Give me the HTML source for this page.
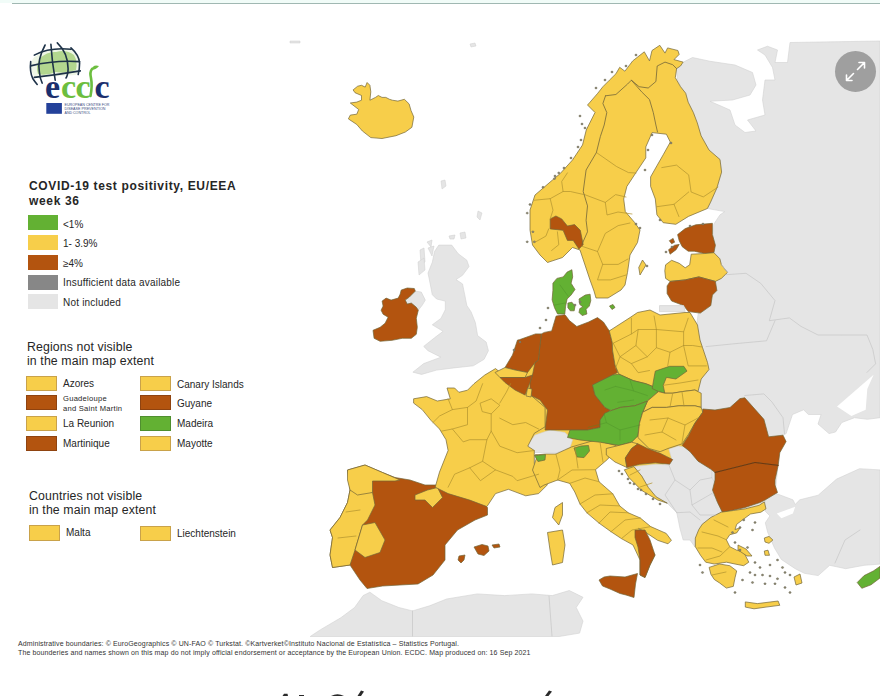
<!DOCTYPE html>
<html><head><meta charset="utf-8">
<style>
html,body{margin:0;padding:0;background:#fff;}
body{width:880px;height:696px;position:relative;overflow:hidden;font-family:"Liberation Sans",sans-serif;color:#262626;}
.topline{position:absolute;left:12px;right:0;top:3px;height:1px;background:#a0b8b2;}
.topbg{position:absolute;left:0;right:0;top:0;height:3px;background:#f1fcf8;}
svg.map{position:absolute;left:0;top:0;}
.t{position:absolute;white-space:nowrap;}
.sw{position:absolute;width:30px;height:15px;box-sizing:border-box;}
.lg{font-size:10px;}
.ttl{font-weight:bold;font-size:12px;line-height:14.5px;left:29px;top:179px;letter-spacing:0.65px;}
.sub{font-size:12.3px;line-height:14px;letter-spacing:0.12px;}
.foot{font-size:7px;line-height:8.8px;left:18px;top:640.3px;color:#333;letter-spacing:0.12px;}
</style></head><body>
<div class="topbg"></div>
<div class="topline"></div>

<svg class="map" width="880" height="696" viewBox="0 0 880 696">
<g id="land" stroke-linejoin="round">
<!-- base fill under continental countries -->
<g fill="#f7ce4a" stroke="none">
<path d="M500,380 L540,335 610,330 695,322 700,345 705,367 698,390 698,410 700,450 660,466 630,470 612,450 540,448 500,440 Z"/>
<path d="M690,450 L720,470 760,470 778,470 775,500 725,515 700,520 Z" fill="#e5e5e5"/>
</g>
<!-- gray background lands -->
<g fill="#e5e5e5" stroke="#d2d2d2" stroke-width="0.6">
<path d="M682.5,62.5 L692.5,57.5 710,61.25 735,65 752.5,72.5 756,85 750,95 732.5,100 710,101.25 730,110 735,125 745,132.5 756,131 747.5,120 765,115 762.5,100 765,80 775,80 772.5,67.5 765,55 757.5,50 767.5,46.25 777.5,50 775,62.5 787.5,62.5 790,42.5 880,41 880,417.7 867.3,419.3 854.5,417.7 841.8,422.5 835.5,432 829,433.6 818,424 821.1,414.5 808.4,414.5 803.6,409.8 792.5,414.5 786.1,433.6 775,440 750,430 720,420 700,420 696,330 700,300 713,240 713.7,224.3 720,214.8 724.8,211.6 707.4,208.5 710.6,202.1 716.9,187.9 721.6,172.1 720,159.5 709,150 701.1,135.8 694.8,120 685,95 677.5,80 676,66 Z"/>
<path d="M438.8,245.1 L451.7,245.1 458.2,253.7 466.8,260.2 469,266.6 462.5,275.3 456,279.6 462.5,283.9 464.7,294.7 466.8,305.4 471.1,311.9 475.4,322.7 477.6,335.6 486.2,342.1 488.4,350.7 484.1,359.3 473.3,365.8 453.9,367.9 436.6,370.1 421.6,374.4 412.9,372.2 423.7,363.6 440.9,357.2 428,350.7 423.7,346.4 434.5,337.8 443.1,331.3 432.3,324.8 440.9,318.4 445.3,309.7 445.3,301.1 436.6,299 432.3,294.7 430.2,283.9 428,273.1 432.3,262.3 434.5,251.6 Z M420,250 L424,248 425,262 421,264 Z M427,242 L432,240 431,247 Z M449,236 L455,235 454,239 450,239 Z"/>
<path d="M409.3,297.1 L415.3,291.1 421.3,292.1 425.3,300.1 422.3,305.1 418.3,310.2 416.3,307.2 411.3,303.1 407.2,304.1 405.2,300.1 Z"/>
<path d="M527.5,445 L535,435 550,430 565,432.5 572.5,440 570,447.5 557.5,452.5 542.5,452.5 535,452.5 Z"/>
<path d="M633.9,466.6 L656.1,464.2 668.9,465 672,460.2 668.9,449 678.4,445.9 686.4,447.5 695.9,458.6 705.4,465 711.8,469.8 711.8,477.7 716.6,485.7 711.8,493.6 719.8,501.6 721.4,512.7 711.8,517.5 702.3,523.9 699.1,533.4 695,547 690,540 683.2,540 680,528.6 676.8,512.7 667.3,503.2 656.1,496.8 648.2,487.3 641.8,476.1 Z"/>
<path d="M765.3,495.2 L774.5,492.9 792.9,499.8 795.2,504.4 799.8,499.8 818.2,495.2 836.6,479.1 859.5,468.7 880,469.9 880,564.1 864.1,565.3 845.7,568.7 829.7,565.3 818.2,575.6 804.4,573.3 795.2,568.7 781.4,559.5 774.5,548 767.6,532 765.3,522.8 769.9,515.9 765.3,511.3 Z"/>
<path d="M310.2,636.5 L320.5,629.7 340.9,617.7 354.6,607.5 363.1,595.6 369.9,592.2 381.8,600.7 398.9,607.5 412.5,610.9 429.6,605.8 446.6,599 477.3,593.9 504.6,595.6 531.8,593.9 552.3,595.6 569.3,590.5 583,597.3 576.2,607.5 583,621.1 579.6,633.1 559.1,636.5 Z"/>
</g>
<g fill="#fff">
<path d="M837,406.6 L851.4,393.9 873.6,374.8 867.3,389 865.7,409.8 851.4,416.1 Z"/>
<path d="M776.8,513.6 L795.2,506.7 792.9,513.6 781.4,518.2 Z"/>
</g>
<!-- countries -->
<g stroke="#736638" stroke-width="0.7" stroke-linejoin="round">
<!-- Iceland -->
<path fill="#f7ce4a" d="M353.1,89.9 L357.7,86.2 361.5,85.3 365.2,87.1 367.1,82.5 369.9,85.3 370.8,91.8 369.9,100.2 375.5,97.4 378.3,95.5 382,97.4 385.8,97.4 389.5,99.3 392.3,100.2 397.9,101.1 404.4,99.3 409.1,103.9 411,110.5 413.8,117 411.9,127.3 405.4,132 396,135.7 382,138.5 370.8,137.6 362.4,131 356.8,124.5 348.4,118.9 350.3,115.1 356.8,114.2 358.7,109.5 350.3,103 356.8,102.1 361.5,100.2 361.5,95.5 355,92.7 Z"/>
<!-- Scandinavia -->
<path fill="#f7ce4a" d="M547.5,262.5 L540,255 532.5,245 530,230 530,210 535,195 552.5,180 560,173.75 572.5,160 582.5,145 586.25,130 595,112.5 587.5,105 590,102.2 597.8,93.2 602.9,86.7 609.4,80.2 615.9,73.8 619.7,67.3 624.9,71.2 632.7,60.9 644.3,51.8 649.5,60.9 652,50.5 659.8,45.3 665,53.1 667.6,47.9 677.9,50.5 679.2,54.4 674,59.6 683.1,62.1 680.5,66 676.6,68.6 675.3,77.7 680.5,86.7 685.7,93.2 688.2,102.2 693.4,112.6 697.3,122.9 701.1,135.8 709,150 720,159.5 721.6,172.1 716.9,187.9 710.6,202.1 707.4,208.5 688.5,216.4 675.8,224.3 663.2,222.7 656.9,214.8 655.3,199 650.6,186.4 650.6,176.9 656.9,165.8 663.2,154.8 670.3,142.1 666.4,134.2 652.1,132.6 645.8,146.9 645.8,157.9 636.3,172.1 626.9,186.4 623.7,199 625.3,211.6 634.8,222.7 640,230 637.5,242.5 630,255 627.5,272.5 625,285 621,290 608,298 596,298 594,291 590,280 585,265 580,250 572.5,247.5 562.5,257.5 Z"/>
<!-- Gotland -->
<path fill="#f7ce4a" d="M642.5,260 L646,265 640,275 638.75,267.5 Z"/>
<!-- Norway brown region -->
<path fill="#b3540f" d="M550.2,218.9 L555.9,216 561.7,218.9 567.4,226 574.6,224.6 580.3,230.3 583.2,244.7 578.9,249 573.2,240.4 567.4,240.4 563.1,230.3 550.2,228.9 Z"/>
<!-- Ireland -->
<path fill="#b3540f" d="M401.2,290.1 L407.2,288 414.3,288.5 415.3,291.1 409.3,297.1 405.2,300.1 407.2,304.1 411.3,303.1 416.3,307.2 418.3,310.2 416.3,318.2 417.3,327.3 416.3,334.3 411.3,338.3 402.2,338.3 392.2,340.3 380.1,341.3 374.1,338.3 373,330.3 380.1,327.3 385.1,323.2 388.1,317.2 383.1,314.2 381.1,310.2 383.1,306.1 382.1,301.1 386.1,298.1 391.1,300.1 398.2,298.1 400.2,294.1 Z"/>
<!-- Estonia -->
<path fill="#b3540f" d="M677.6,234.6 L685.2,228.6 695.8,224.8 712.4,223.3 712.4,234.6 715.4,245.2 713.9,252.7 704.8,253.5 694.2,251.2 688.2,251.2 682.2,246.7 679.2,240.7 Z"/>
<path fill="#b3540f" d="M668.6,249.7 L674.6,245.2 679.2,244.4 676.1,249.7 670.1,254.2 Z M669.3,240.7 L673.1,238.4 674.6,242.2 671.6,243.7 Z"/>
<!-- Latvia -->
<path fill="#f7ce4a" d="M665.6,264.8 L671.6,260.3 679.2,263.3 685.2,267.8 689.7,264.8 691.2,254.2 704.8,253.5 713.9,252.7 719.9,258.8 721.4,264.8 727.5,272.4 721.4,278.4 715.4,281.4 698.8,276.9 685.2,279.9 670.1,281.4 665.6,278.4 664.8,270.8 Z"/>
<!-- Lithuania -->
<path fill="#b3540f" d="M670.1,281.4 L685.2,279.9 698.8,276.9 715.4,281.4 716.9,290.5 712.4,295 710.8,305.6 700.3,313.1 688.2,311.6 683.7,305.6 671.6,301 667.1,293.5 667.1,285.9 Z"/>
<!-- Kaliningrad -->
<path fill="#e5e5e5" stroke="#d2d2d2" d="M659.5,305.6 L683.7,305.6 685.2,311.6 659.5,311.6 Z"/>
<!-- Iberia (Spain brown) -->
<path fill="#b3540f" d="M347.5,470 L365,465 382.5,472.5 395,477.5 410,480 425,485 437.5,485 450,490 470,497.5 485,505 487.5,507.5 487.5,515 475,520 457.5,530 445,545 445,560 433,575 418,584 400,585 382.5,586 367,588.5 360,580 350,565 332.5,567.5 330,555 332.5,537.5 330,530 340,517.5 347.5,502.5 350,490 Z"/>
<!-- Portugal -->
<path fill="#f7ce4a" d="M350,490 L372.5,492.5 375,505 367.5,520 362.5,525 355,550 350,565 332.5,567.5 330,555 332.5,537.5 330,530 340,517.5 347.5,502.5 Z"/>
<!-- Galicia/Asturias -->
<path fill="#f7ce4a" d="M347.5,470 L365,465 382.5,472.5 400,480 395,481 372.5,481 372.5,492.5 357.5,495 350,490 347.5,480 Z"/>
<!-- Extremadura -->
<path fill="#f7ce4a" d="M362.5,525 L375,522.5 385,540 380,552.5 365,557.5 355,550 Z"/>
<!-- Basque -->
<path fill="#f7ce4a" d="M415,495 L427.5,490 437.5,487.5 442.5,497.5 432.5,507.5 425,500 415,500 Z"/>
<!-- Balearics -->
<path fill="#b3540f" d="M474,547 L482,544.5 488,546 489,551 484,555.5 478,554 Z M492,545 L499,544 500,547 494,548 Z M459,556 L465,555 464,560 461,563 458,560 Z"/>
<!-- France -->
<path fill="#f7ce4a" d="M413.6,398.8 L426.6,396.6 437.3,401 450.3,398.8 447,388 454.6,388 458.9,392.3 467.5,390.2 474,383.7 484.7,375.1 495.5,368.6 506.3,377.2 510.6,383.7 525.7,385.9 530,394.5 545.1,407.4 545.1,426.8 534.3,433.3 527.8,446.2 534.3,450.5 534.3,463.4 538.6,474.2 547.2,480.7 547.2,485 538.6,493.6 525.7,495.8 508.4,489.3 495.5,493.6 486.9,506.6 469.7,500.1 448.1,493.6 435.2,487.2 439.5,472.1 448.1,450.5 446,439.7 439.5,429 430.9,420.3 422.2,409.6 413.6,403.1 Z"/>
<!-- Corsica -->
<path fill="#f7ce4a" d="M555,507.5 L562.5,502.5 562.5,515 558.75,525 552.5,517.5 Z"/>
<!-- Sardinia -->
<path fill="#f7ce4a" d="M547.5,532.5 L562.5,530 565,545 562.5,562.5 552.5,565 550,550 Z"/>
<!-- Italy -->
<path fill="#f7ce4a" d="M535,455 L545.5,454 555.9,454 571.4,447 595.5,440 616,445.5 617,450 611,455 607.6,459.3 595.5,469.7 599,481.7 612.8,493.8 619.7,505.9 628.3,512.8 640.3,518 650.7,526.6 666.2,533.4 671.4,540.3 668,543.8 657.6,540.3 647.2,533.4 638.6,528.3 645,540 655,555 650,565 645,577.5 640,575 640,560 633,545 621.4,538.6 611,531.7 599,523.1 586.9,512.8 580,504 574.8,492 569.7,483.4 557.6,480 543.8,485.2 540,487.5 532.5,470 537.5,455 Z"/>
<!-- green Italian regions -->
<path fill="#63b133" d="M534.5,455.5 L545.5,454.5 545,460 538,461.5 Z"/>
<path fill="#63b133" d="M574,448 L581,446 588.5,445.5 589.5,451 584,457.6 577,457 Z"/>
<!-- Calabria brown -->
<path fill="#b3540f" d="M635,530 L645,530 650,540 655,555 650,565 645,577.5 640,575 640,560 638,547 635,537.5 Z"/>
<!-- Sicily -->
<path fill="#b3540f" d="M599,580 L604,577 610,576 625,577 637.5,573.5 635.5,584 634,597.5 626,595 620,593.5 610,589 602.5,586 Z"/>
<!-- Germany -->
<path fill="#b3540f" d="M556.1,316.1 L565,314.7 569.4,320.6 576.8,326.5 588.6,322 597.5,317.6 603.4,322 609.3,330.9 612.3,342.7 612.5,350 615,365 617.5,372.5 612.5,375 592.5,385 595,395 605,407.5 610,410 600,420 600,427.5 587.5,430 570,430 557.5,430 545,430 547.5,410 540,400 530,395 530,382.5 532.5,375 535,362.5 538.4,360 539.9,345.7 541.4,333.9 544.3,332.4 551.7,330.9 Z"/>
<!-- Netherlands -->
<path fill="#b3540f" d="M517.5,340 L519.2,339.8 535.5,333.9 541.4,333.9 539.9,345.7 538.4,360 535,362.5 527.5,372.5 515,370 505,367.5 512.5,355 Z"/>
<!-- Belgium -->
<path fill="#f7ce4a" d="M495,372.5 L505,367.5 515,370 527.5,372.5 525,377.5 500,377.5 Z"/>
<path fill="#b3540f" d="M500,377.5 L525,377.5 532.5,375 530,382.5 525,395 515,390 505,382.5 Z"/>
<path fill="#f7ce4a" d="M527.5,388 L532,389 531,397 526,396 Z"/>
<!-- Denmark -->
<path fill="#63b133" d="M571.9,269.7 L572.7,276.9 571.1,283.2 575,289.5 571.1,295 567.1,299 565.6,306.1 564.8,314 557.6,314 554.5,307.7 552.1,299.8 552.9,290.3 552.9,283.2 556.9,278.4 563.2,276.9 567.1,272.1 Z"/>
<path fill="#63b133" d="M567.9,303 L571.9,302.2 575,306.1 574.2,310.8 570.3,310.8 567.9,307.7 Z"/>
<path fill="#63b133" d="M579,299 L585.3,295 590.1,294.2 590.8,300.6 589.3,306.1 586.1,309.3 586.9,314 582.2,315.6 579,312.4 579.8,308.5 582.9,306.9 579.8,304.5 Z"/>
<path fill="#63b133" d="M609.5,306 L613,304.5 615,307.5 612,309.5 Z"/>
<!-- Poland -->
<path fill="#f7ce4a" d="M609.3,330.9 L630,317.6 637.5,312.5 650,310 660,315 685,312.5 690,312.5 697.5,325 700,340 702.5,347.5 707.5,362.5 709,369.5 701.2,379 698,391.6 694.9,390 682.2,391.6 672.7,393.2 664.8,393.2 658.5,391.6 653.8,386.9 645.8,383.7 633.2,380.6 619,374.2 615,365 612.5,350 612.3,342.7 Z"/>
<!-- Czechia -->
<path fill="#63b133" d="M592.5,385 L612.5,375 619,374.2 633.2,380.6 645.8,383.7 653.8,386.9 658.5,391.6 647.4,401.1 634.8,405.8 620.6,407.4 611.1,410.6 605,407.5 595,395 Z"/>
<path fill="#63b133" d="M655.3,371.1 L669.6,366.3 683.8,366.3 687,371.1 675.9,379 666.4,377.4 663.2,385.3 664.8,393.2 658.5,391.6 652.2,388.5 653.8,379 Z"/>
<!-- Slovakia -->
<path fill="#f7ce4a" d="M658.5,391.6 L664.8,393.2 672.7,393.2 682.2,391.6 694.9,390 701.2,393.2 701.2,407.4 694.9,405.8 679,405.8 666.4,407.4 652.2,407.4 642.7,412.2 647.4,401.1 Z"/>
<!-- Austria -->
<path fill="#63b133" d="M570,430 L587.5,430 600,427.5 600,420 605,413 611.1,410.6 620.6,407.4 634.8,405.8 647.4,401.1 642.7,412.2 639.5,423.2 637.9,435.9 631.6,442.2 619,445.4 600,442.2 580,440 567.5,437.5 Z"/>
<!-- Hungary -->
<path fill="#f7ce4a" d="M642.7,412.2 L652.2,407.4 666.4,407.4 679,405.8 694.9,405.8 701.2,407.4 702.8,412.2 694.9,423.2 688.5,434.3 682.2,443.8 668,448.5 660.1,451.7 649,448.5 637.9,437.5 639.5,423.2 Z"/>
<!-- Slovenia -->
<path fill="#f7ce4a" d="M606.3,448.5 L619,445.4 631.6,442.2 637.9,443.8 631.6,448.5 625.3,458 626.9,467.5 615,462 606.3,455 Z"/>
<!-- Croatia -->
<path fill="#b3540f" d="M625.3,458 L631.6,448.5 637.9,443.8 647.4,448.5 660.1,453.3 666.4,456.4 672.7,459.6 669.6,464.3 655.3,462.8 639.5,464.3 626.9,467.5 Z"/>
<path fill="#f7ce4a" d="M624.3,469.8 L633.9,466.6 641.8,476.1 648.2,487.3 656.1,496.8 667.3,503.2 657.7,500 641.8,490.5 629,477.7 Z"/>
<!-- Romania -->
<path fill="#b3540f" d="M702.8,409 L715,410 730,407.5 740,398.6 744.8,397.8 763.9,419.3 768.6,436.8 783,435.2 786.1,441.6 779.8,452.7 778.2,465.4 755,462.5 715,472.5 710.7,469.1 698,461.2 690.1,451.7 682.2,445.4 688.5,435.9 694.9,423.2 702.8,412.2 Z"/>
<!-- Bulgaria -->
<path fill="#b3540f" d="M715,472.5 L755,462.5 778.2,465.4 775,480 775,485 777.5,492.5 765,500 760,502.5 745,507.5 722.5,512.5 717.5,502.5 712.5,490 715,480 Z"/>
<!-- Greece -->
<path fill="#f7ce4a" d="M721.2,512.2 L733.3,510.5 745.3,508.8 759.1,505.3 764.3,501.9 766,508.8 760.9,512.2 750.5,514 743.6,519.1 736.7,524.3 735,529.5 740.2,527.8 736.7,532.9 729.8,534.7 726.4,539.8 729.8,546.7 736.7,550.2 743.6,551.9 748.8,562.2 743.6,565.7 735,564 726.4,562.2 714.3,564 705.7,562.2 700.5,555.3 695.3,546.7 695.3,538.1 698.8,529.5 702.2,524.3 710.9,517.4 Z"/>
<path fill="#f7ce4a" d="M709.1,567.4 L719.5,564 729.8,565.7 736.7,570.9 735,577.8 733.3,586.4 726.4,588.1 719.5,582.9 714.3,579.5 710.9,574.3 Z"/>
<path fill="#f7ce4a" d="M745.3,601.9 L757.4,603.6 778.1,601 779.8,605.3 766,607.1 754,608.8 745.3,607.1 Z"/>
<path fill="#f7ce4a" d="M738,545 L746,549 752,556 747,556 738,550 Z"/>
<path fill="#f7ce4a" d="M764.3,538 L769,536.4 772.9,540 769,543.3 765,542 Z M764.3,551 L768,550.2 769.5,555.3 765,555.3 Z M794,577 L800,574 802,583 796,585 Z"/>
<!-- Cyprus -->
<path fill="#63b133" d="M857.2,582.5 L864.1,575.6 873.3,571 880,566.4 880,578 871,584.8 861.8,588.3 Z"/>
</g>
<!-- islands -->
<g fill="#8f8b72" stroke="#6a6656" stroke-width="0.5">
<ellipse cx="743.75" cy="520" rx="1.1" ry="0.9"/>
<ellipse cx="755" cy="522.5" rx="1.1" ry="0.9"/>
<ellipse cx="732.5" cy="532.5" rx="1.1" ry="0.9"/>
<ellipse cx="740" cy="527.5" rx="1.1" ry="0.9"/>
<ellipse cx="752.5" cy="530" rx="1.1" ry="0.9"/>
<ellipse cx="735" cy="542.5" rx="1.1" ry="0.9"/>
<ellipse cx="747.5" cy="547.5" rx="1.1" ry="0.9"/>
<ellipse cx="740" cy="550" rx="1.1" ry="0.9"/>
<ellipse cx="755" cy="562.5" rx="1.1" ry="0.9"/>
<ellipse cx="760" cy="567.5" rx="1.1" ry="0.9"/>
<ellipse cx="770" cy="565" rx="1.1" ry="0.9"/>
<ellipse cx="777.5" cy="560" rx="1.1" ry="0.9"/>
<ellipse cx="782.5" cy="567.5" rx="1.1" ry="0.9"/>
<ellipse cx="750" cy="572.5" rx="1.1" ry="0.9"/>
<ellipse cx="755" cy="575" rx="1.1" ry="0.9"/>
<ellipse cx="762.5" cy="575" rx="1.1" ry="0.9"/>
<ellipse cx="770" cy="576" rx="1.1" ry="0.9"/>
<ellipse cx="777.5" cy="578.75" rx="1.1" ry="0.9"/>
<ellipse cx="785" cy="572.5" rx="1.1" ry="0.9"/>
<ellipse cx="790" cy="575" rx="1.1" ry="0.9"/>
<ellipse cx="742.5" cy="580" rx="1.1" ry="0.9"/>
<ellipse cx="752.5" cy="582.5" rx="1.1" ry="0.9"/>
<ellipse cx="765" cy="583.75" rx="1.1" ry="0.9"/>
<ellipse cx="775" cy="583.75" rx="1.1" ry="0.9"/>
<ellipse cx="785" cy="587.5" rx="1.1" ry="0.9"/>
<ellipse cx="790" cy="592.5" rx="1.1" ry="0.9"/>
<ellipse cx="700" cy="565" rx="1.1" ry="0.9"/>
<ellipse cx="702.5" cy="572.5" rx="1.1" ry="0.9"/>
<ellipse cx="735" cy="592.5" rx="1.1" ry="0.9"/>
<ellipse cx="622" cy="474" rx="1.1" ry="0.9"/>
<ellipse cx="628" cy="479" rx="1.1" ry="0.9"/>
<ellipse cx="634" cy="484" rx="1.1" ry="0.9"/>
<ellipse cx="641" cy="490" rx="1.1" ry="0.9"/>
<ellipse cx="646" cy="494" rx="1.1" ry="0.9"/>
<ellipse cx="653" cy="499" rx="1.1" ry="0.9"/>
<ellipse cx="660" cy="504" rx="1.1" ry="0.9"/>
<ellipse cx="619" cy="471" rx="1.1" ry="0.9"/>
<ellipse cx="630" cy="483" rx="1.1" ry="0.9"/>
<ellipse cx="638" cy="489" rx="1.1" ry="0.9"/>
<ellipse cx="580" cy="116" rx="1.1" ry="0.9"/>
<ellipse cx="582" cy="124" rx="1.1" ry="0.9"/>
<ellipse cx="585" cy="128" rx="1.1" ry="0.9"/>
<ellipse cx="581" cy="140" rx="1.1" ry="0.9"/>
<ellipse cx="578" cy="147" rx="1.1" ry="0.9"/>
<ellipse cx="571" cy="158" rx="1.1" ry="0.9"/>
<ellipse cx="564" cy="168" rx="1.1" ry="0.9"/>
<ellipse cx="555" cy="176" rx="1.1" ry="0.9"/>
<ellipse cx="543" cy="187.2" rx="1.1" ry="0.9"/>
<ellipse cx="554.5" cy="178.6" rx="1.1" ry="0.9"/>
<ellipse cx="530" cy="204.5" rx="1.1" ry="0.9"/>
<ellipse cx="527.2" cy="213.1" rx="1.1" ry="0.9"/>
<ellipse cx="532.9" cy="231.8" rx="1.1" ry="0.9"/>
<ellipse cx="527.2" cy="241.8" rx="1.1" ry="0.9"/>
<ellipse cx="534.4" cy="241.8" rx="1.1" ry="0.9"/>
<ellipse cx="558.8" cy="172.9" rx="1.1" ry="0.9"/>
<ellipse cx="596" cy="88" rx="1.1" ry="0.9"/>
<ellipse cx="605" cy="80" rx="1.1" ry="0.9"/>
<ellipse cx="612" cy="72" rx="1.1" ry="0.9"/>
<ellipse cx="626" cy="66" rx="1.1" ry="0.9"/>
<ellipse cx="636" cy="55" rx="1.1" ry="0.9"/>
<ellipse cx="672" cy="247" rx="1.1" ry="0.9"/>
<ellipse cx="666" cy="252" rx="1.1" ry="0.9"/>
<ellipse cx="690" cy="226" rx="1.1" ry="0.9"/>
<ellipse cx="703" cy="224" rx="1.1" ry="0.9"/>
<ellipse cx="647" cy="266" rx="1.1" ry="0.9"/>
<ellipse cx="575" cy="305" rx="1.1" ry="0.9"/>
<ellipse cx="580" cy="302" rx="1.1" ry="0.9"/>
<ellipse cx="548" cy="308" rx="1.1" ry="0.9"/>
<ellipse cx="546" cy="320" rx="1.1" ry="0.9"/>
<ellipse cx="540" cy="328" rx="1.1" ry="0.9"/>
<ellipse cx="520" cy="342" rx="1.1" ry="0.9"/>
<ellipse cx="514" cy="350" rx="1.1" ry="0.9"/>
<ellipse cx="652" cy="135" rx="1.1" ry="0.9"/>
<ellipse cx="648" cy="150" rx="1.1" ry="0.9"/>
<ellipse cx="645" cy="170" rx="1.1" ry="0.9"/>
<ellipse cx="636" cy="224" rx="1.1" ry="0.9"/>
<ellipse cx="640" cy="228" rx="1.1" ry="0.9"/>
<ellipse cx="660" cy="220" rx="1.1" ry="0.9"/>
<ellipse cx="671" cy="143" rx="1.1" ry="0.9"/>
</g>
<g fill="#e5e5e5" stroke="#cfcfcf" stroke-width="0.5">
<path d="M441,181 L445,180 446,186 442,189 Z"/>
<path d="M478,211 L482,213 480,220 477,217 Z"/>
<path d="M460,233 L465,232 466,238 461,239 Z"/>
<path d="M290,41 L300,41 300,43 290,43 Z"/>
<path d="M470,44 L475,43 476,46 471,47 Z"/>
<path d="M418,262 L424,258 425,270 419,275 Z"/>
<path d="M428,248 L434,246 432,256 Z"/>
</g>
<!-- internal borders -->
<g fill="none" stroke-width="0.7" stroke-linejoin="round" stroke-linecap="round">
<g stroke="#b0922e">
<!-- Norway/Sweden/Finland national -->



<!-- Sweden regions -->
<path d="M596.4,152.5 L616.5,166.5 628.5,172.6 636,173"/>
<path d="M584.6,194.6 L605.3,202.4 615.6,194.6 626,197"/>
<path d="M582,246.3 L597.5,251.5 605.3,233.4 618.2,225.6 630,223"/>
<path d="M597.5,251.5 L602.7,264.4 618.2,264.4 628,259"/>
<path d="M602.7,264.4 L597.5,279.9 610.5,279.9 626,275"/>
<path d="M605.3,202.4 L607,215 618,212 632,214"/>
<!-- Norway regions -->
<path d="M534.4,200.2 L550.2,198.7 563.1,191.5 570.3,191.5 583.2,194.4"/>
<path d="M550.2,198.7 L553,210.2 550.2,218.9"/>
<path d="M563.1,191.5 L561.7,181.5 567.4,172.9"/>
<path d="M548.7,228.9 L545.9,236.1 535.8,241.8"/>
<path d="M557.4,231.8 L558.8,244.7 551.6,250.5"/>
<!-- Finland regions -->
<path d="M661.8,167.6 L676.5,165.1 688.7,174.9 691.1,192 703.3,196.9 718,187.1"/>
<path d="M656.9,206.7 L674,204.3 688.7,192"/>
<path d="M674,204.3 L678.9,216.5"/>
<!-- Latvia -->

<!-- Poland -->
<path d="M631.4,318.2 L631.4,334 613.2,343.2"/>
<path d="M654.1,316 L656.4,329.5 638.2,329.5 631.4,334"/>
<path d="M656.4,329.5 L683.6,331.8 688.2,318.2"/>
<path d="M638.2,329.5 L635.9,345.5 647.3,356.8 656.4,347.7 656.4,329.5"/>
<path d="M613.2,343.2 L620,356.8 615.5,368.2"/>
<path d="M635.9,345.5 L620,356.8 631.4,363.6 647.3,356.8"/>
<path d="M631.4,363.6 L638.2,372.7 649.5,370.5"/>
<path d="M656.4,347.7 L670,352.3 683.6,345.5 692.7,345.5 702,347"/>
<path d="M683.6,331.8 L683.6,345.5"/>
<path d="M670,352.3 L667.7,365.9"/>
<path d="M683.6,345.5 L688.2,365.9 706.4,365.9"/>

<!-- Slovakia / Hungary -->
<path d="M672.7,393.2 L670,407 M682,392 L684,406"/>
<path d="M650,420 L668,418 685,425 698,418"/>
<path d="M645,435 L662,432 676,440"/>
<path d="M668,418 L662,432 M685,425 L682,443"/>
<path d="M663.2,385.3 L680,383 698,380"/>
<!-- France -->
<path d="M448.1,398.8 L452.4,409.6 439.5,416 433,422.5"/>
<path d="M452.4,409.6 L467.5,407.4 476.1,401 482.6,383.7"/>
<path d="M467.5,407.4 L467.5,424.7 452.4,429 441.6,431.1"/>
<path d="M452.4,429 L463.2,441.9 469.7,439.7 486.9,439.7"/>
<path d="M480.4,403.1 L491.2,398.8 499.8,405.3 491.2,413.9 482.6,411.7 Z"/>
<path d="M499.8,403.1 L506.3,392.3 510.6,383.7"/>
<path d="M491.2,413.9 L491.2,431.1 486.9,439.7 482.6,461.3 469.7,467.8 454.6,474.2 448.1,487.2"/>
<path d="M499.8,418.2 L512.8,424.7 525.7,422.5 538.6,429"/>
<path d="M491.2,431.1 L499.8,446.2 517.1,452.7 534.3,450.5"/>
<path d="M482.6,461.3 L495.5,469.9 512.8,476.4 517.1,480.7 538.6,474.2"/>
<path d="M469.7,467.8 L480.4,480.7 495.5,469.9"/>
<!-- Spain/Portugal yellow -->
<path d="M346,512 L360,510 M338,538 L356,536"/>
<!-- Italy -->
<path d="M555.9,454 L560,470 557.6,480"/>
<path d="M557.6,480 L572,470 595.5,469.7"/>
<path d="M569.7,483.4 L585,478 599,481.7"/>
<path d="M575,447 L578,468"/>
<path d="M600,442 L603,462"/>
<path d="M580,504 L595,495 612.8,493.8"/>
<path d="M586.9,512.8 L600,505 619.7,505.9"/>
<path d="M599,523.1 L610,512 628.3,512.8"/>
<path d="M611,531.7 L625,520 640.3,518"/>
<path d="M621.4,538.6 L632,530 650.7,526.6"/>
<!-- Croatia coast -->
<path d="M630,475 L640,470 M640,487 L652,483"/>
<!-- Greece -->
<path d="M714,520 L728,527 M702,532 L718,536 726.4,539.8 M698,548 L712,548 722,552 M706,560 L720,556 729.8,546.7 M712,575 L726,572"/>
</g>
<g stroke="#6e3008" stroke-width="0.9">
<path d="M715,472.5 L755,462.5 778.2,465.4"/>
</g>
<g stroke="#4a8d28" opacity="0.55">
<path d="M615.5,386.4 L633.6,390.9 647.3,395.5"/>
<path d="M617.7,402.3 L633.6,400"/>
<path d="M605,390 L615.5,386.4 M633.6,390.9 L630,380"/>
<path d="M588.2,427.3 L606.4,422.7 620,430 640,425"/>
<path d="M606.4,422.7 L604.1,413.6 M620,430 L620,440"/>
<path d="M560,285 L568,296 M555,305 L565,303"/>
</g>
<g stroke="#c6c6c6">
<!-- Balkans internal -->
<path d="M668.9,465 L675,480 665,495 676.8,512.7"/>
<path d="M675,480 L690,490 700,480 711.8,477.7"/>
<path d="M690,490 L692,505 711.8,493.6 M692,505 L700,515 716,515"/>
<path d="M676.8,512.7 L690,512 700,520"/>
<!-- Moldova/Ukraine/Belarus -->
<path d="M721.4,264.8 L727.5,272.4 M726,274.7 L746,273.3 760.7,283.3 775,300.6 769.3,320.7 789.4,317.9 801,326.4 818,335 841.2,335 867,335 872.8,349.4 875.6,363.8 867,372.4"/>
<path d="M706,346.6 L734.9,343.7 766.5,340.8 775,320.7"/>
<path d="M744.8,395.5 L763.9,393.9 771.8,401.8 783,417.7 784.5,433.6"/>
<!-- Turkey/Bulgaria etc -->
<path d="M835,563 L845,540 860,530"/>
<path d="M412.5,610.9 L412.5,636"/>
<path d="M549,596 L552,636"/>
</g>
<g stroke="#736638" stroke-width="0.8">
<path d="M605.5,95.8 L602.9,103.5 606.8,112.6 604.2,125 600.4,136.4 596.4,152.5 586.1,170 583.2,191.5 587.5,205.9 586.1,220.3 587.5,231.8 581.8,244.7"/>
<path d="M631.4,80.2 L641.7,91.9 649.5,99.6 653.3,112.6 655.9,125 657.5,132"/>
<path d="M605.5,95.8 L615.9,94.5 627.5,84.1 631.4,80.2 639.1,86.7 648.2,88 655.9,81.5 657.2,66 665,62.1 672.7,64.7 676.6,68.6"/>
</g>
</g>
</g>
</svg>
<!-- logo -->
<svg style="position:absolute;left:0;top:0" width="130" height="125" viewBox="0 0 130 125">
 <path d="M36,56 Q54,46 71,49 Q79,56 79.5,63 Q79,72 76,75 Q55,76 35,78 Q30,70 31,64 Q32,58 36,56 Z" fill="#eef6e6"/>
 <g fill="#b3d78f">
  <path d="M40,58 Q48,51 56,52 Q66,49 74,55 Q78,62 76,70 Q66,74 56,72 Q46,76 38,74 Q35,66 40,58 Z"/>
 </g>
 <g fill="none" stroke="#1e3248" stroke-width="1.6" stroke-linecap="round">
  <path d="M34.3,55.1 Q50,47 71,49.3"/>
  <path d="M30.7,65.9 Q54,60 79.6,61.6"/>
  <path d="M34.3,77.4 Q56,75 80.3,70.9"/>
  <path d="M45.1,45 Q37,60 39.4,72.3 Q40,79 42.2,83.1"/>
  <path d="M50.9,44.3 Q52,62 55.2,80.2"/>
  <path d="M57.3,42.9 Q68,53 68.1,68.7 Q68,75 66,78"/>
  <path d="M71,47.9 Q79,55 79.6,63 Q79.5,70 78.2,74.5"/>
  <path d="M30.7,61.6 Q29.5,72 32.9,78.8 Q35,82 37.2,84.5"/>
 </g>
 <g font-family="Liberation Serif" font-size="34" font-weight="bold">
  <text x="45" y="97.5" fill="#1b2f6e">e</text>
  <text x="61" y="97.5" fill="#6cbe3f">c</text>
  <text x="75.5" y="97.5" fill="#6cbe3f">c</text>
  <text x="94.5" y="97.5" fill="#1b2f6e">c</text>
 </g>
 <path d="M90.5,96 Q92.5,86 91,78 Q89.5,72 92,69" fill="none" stroke="#6cbe3f" stroke-width="2.6" stroke-linecap="round"/>
 <path d="M91,70 Q93,64 99,66 Q96,70 91,70 Z" fill="#6cbe3f"/>
 <rect x="46.3" y="103" width="15.6" height="10.8" fill="#24419a"/>
 <g fill="#3b4b80" font-family="Liberation Sans" font-size="4.3">
  <text x="64.5" y="106" textLength="45" lengthAdjust="spacingAndGlyphs">EUROPEAN CENTRE FOR</text>
  <text x="64.5" y="110.2" textLength="41" lengthAdjust="spacingAndGlyphs">DISEASE PREVENTION</text>
  <text x="64.5" y="114.4" textLength="26" lengthAdjust="spacingAndGlyphs">AND CONTROL</text>
 </g>
</svg>
<div class="t ttl">COVID-19 test positivity, EU/EEA<br>week 36</div>
<div class="sw" style="left:28px;top:215px;background:#63b133;"></div>
<div class="sw" style="left:28px;top:235px;background:#f7ce4a;"></div>
<div class="sw" style="left:28px;top:255px;background:#b3540f;"></div>
<div class="sw" style="left:28px;top:275px;background:#878787;"></div>
<div class="sw" style="left:28px;top:294px;background:#e5e5e5;"></div>
<div class="t lg" style="left:63px;top:219px;">&lt;1%</div>
<div class="t lg" style="left:63px;top:237.8px;">1- 3.9%</div>
<div class="t lg" style="left:63px;top:258px;">&#8805;4%</div>
<div class="t lg" style="left:63px;top:277.3px;letter-spacing:0.19px;">Insufficient data available</div>
<div class="t lg" style="left:63px;top:297.3px;letter-spacing:0.2px;">Not included</div>

<div class="t sub" style="left:27px;top:340px;">Regions not visible<br>in the main map extent</div>
<div class="sw" style="left:26px;top:376px;width:31px;background:#f7ce4a;border:1px solid #c9a24a;"></div>
<div class="sw" style="left:26px;top:395px;width:31px;background:#b3540f;border:1px solid #8f4310;"></div>
<div class="sw" style="left:26px;top:416px;width:31px;background:#f7ce4a;border:1px solid #c9a24a;"></div>
<div class="sw" style="left:26px;top:436px;width:31px;background:#b3540f;border:1px solid #8f4310;"></div>
<div class="sw" style="left:140px;top:376px;width:31px;background:#f7ce4a;border:1px solid #c9a24a;"></div>
<div class="sw" style="left:140px;top:395px;width:31px;background:#b3540f;border:1px solid #8f4310;"></div>
<div class="sw" style="left:140px;top:416px;width:31px;background:#63b133;border:1px solid #4f8f2f;"></div>
<div class="sw" style="left:140px;top:436px;width:31px;background:#f7ce4a;border:1px solid #c9a24a;"></div>
<div class="t lg" style="left:63px;top:378px;">Azores</div>
<div class="t" style="left:63px;top:394px;font-size:7.6px;line-height:9.5px;letter-spacing:0.25px;">Guadeloupe<br>and Saint Martin</div>
<div class="t lg" style="left:63px;top:418px;">La Reunion</div>
<div class="t lg" style="left:63px;top:438px;">Martinique</div>
<div class="t lg" style="left:177px;top:379px;">Canary Islands</div>
<div class="t lg" style="left:177px;top:398px;">Guyane</div>
<div class="t lg" style="left:177px;top:418px;">Madeira</div>
<div class="t lg" style="left:177px;top:438px;">Mayotte</div>

<div class="t sub" style="left:29px;top:489px;">Countries not visible<br>in the main map extent</div>
<div class="sw" style="left:29px;top:525px;width:31px;height:16px;background:#f7ce4a;border:1px solid #c9a24a;"></div>
<div class="sw" style="left:140px;top:526px;width:31px;height:15px;background:#f7ce4a;border:1px solid #c9a24a;"></div>
<div class="t lg" style="left:66px;top:527px;">Malta</div>
<div class="t lg" style="left:177px;top:528px;">Liechtenstein</div>

<div class="t foot">Administrative boundaries: &#169; EuroGeographics &#169; UN-FAO &#169; Turkstat. &#169;Kartverket&#169;Instituto Nacional de Estat&#237;stica &#8211; Statistics Portugal.<br>The bounderies and names shown on this map do not imply official endorsement or acceptance by the European Union. ECDC. Map produced on: 16 Sep 2021</div>

<!-- bottom cut-off heading tops -->
<svg style="position:absolute;left:0;top:680px" width="880" height="16" viewBox="0 680 880 16">
 <g fill="#2a2a2a">
  <path d="M282.5,696 L284,693.8 287.5,693.8 288,696 Z"/>
  <rect x="299" y="695" width="5" height="1"/>
  <path d="M331,696 Q337.5,692.5 344,696 Z"/>
  <path d="M357.5,696 L361,690.6 364,691.5 361,696 Z"/>
  <path d="M545,696 L549,690.6 552,691.5 548.5,696 Z"/>
 </g>
</svg>
<!-- expand button -->
<svg style="position:absolute;left:834px;top:50px" width="43" height="43" viewBox="0 0 43 43">
 <circle cx="21.5" cy="21.4" r="20.5" fill="#9f9f9f"/>
 <g stroke="#fff" stroke-width="1.6" fill="none" stroke-linecap="round" stroke-linejoin="round">
  <path d="M23.5,19.5 L30.5,12.5 M25,12.5 L30.5,12.5 L30.5,18"/>
  <path d="M19.5,23.5 L12.5,30.5 M12.5,25 L12.5,30.5 L18,30.5"/>
 </g>
</svg>
</body></html>
